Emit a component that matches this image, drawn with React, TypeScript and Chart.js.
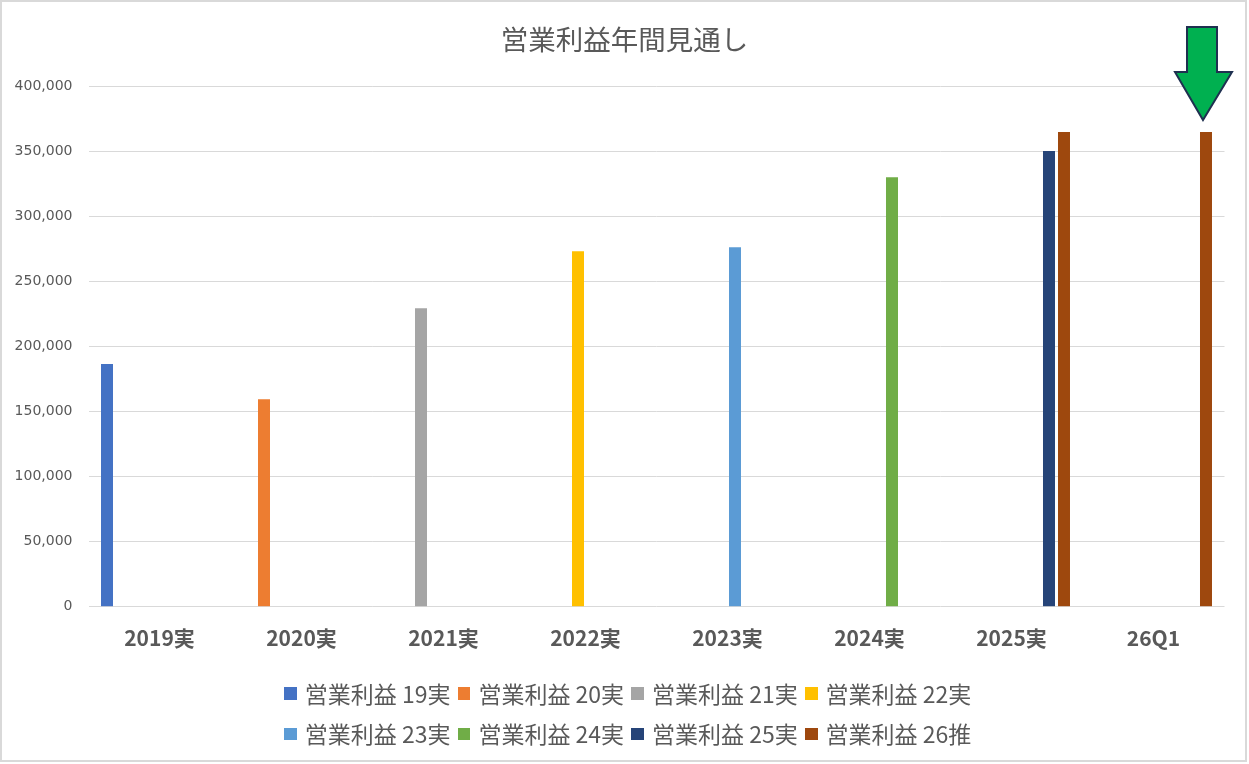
import { useEffect, useRef } from "react"
import { Chart, registerables, ChartConfiguration } from "chart.js"

Chart.register(...registerables)

const categories = ["2019実", "2020実", "2021実", "2022実", "2023実", "2024実", "2025実", "26Q1"]

const seriesNames = [
  "営業利益 19実",
  "営業利益 20実",
  "営業利益 21実",
  "営業利益 22実",
  "営業利益 23実",
  "営業利益 24実",
  "営業利益 25実",
  "営業利益 26推",
]

const op19 = [186500, null, null, null, null, null, null, null]
const op20 = [null, 159500, null, null, null, null, null, null]
const op21 = [null, null, 229500, null, null, null, null, null]
const op22 = [null, null, null, 273300, null, null, null, null]
const op23 = [null, null, null, null, 276400, null, null, null]
const op24 = [null, null, null, null, null, 330200, null, null]
const op25 = [null, null, null, null, null, null, 350200, null]
const op26 = [null, null, null, null, null, null, 364800, 364800]

const seriesValues = [op19, op20, op21, op22, op23, op24, op25, op26]

const seriesColors = ["#4472C4", "#ED7D31", "#A5A5A5", "#FFC000", "#5B9BD5", "#70AD47", "#264478", "#9E480E"]

const yMax = 400000
const yStep = 50000

const JP = "'Noto Sans CJK JP', 'Noto Sans', sans-serif"
const GREY_TEXT = "#595959"

// legend is laid out in html: 4 items per row, like the original
const LEGEND_PER_ROW = 4

function Legend() {
  const rows: number[][] = []
  seriesNames.forEach((_, i) => {
    const r = Math.floor(i / LEGEND_PER_ROW)
    if (!rows[r]) rows[r] = []
    rows[r].push(i)
  })
  return (
    <div style={{ position: "absolute", left: 284.3, top: 673, width: 720 }}>
      {rows.map((row, r) => (
        <div key={r} style={{ display: "flex", height: 40.5, alignItems: "center" }}>
          {row.map((i) => (
            <div key={i} style={{ display: "flex", alignItems: "center", width: 173.6, flex: "none" }}>
              <span style={{ width: 12.5, height: 12.5, background: seriesColors[i], marginRight: 8, flex: "none" }} />
              <span style={{ fontFamily: JP, fontSize: 23, color: GREY_TEXT, whiteSpace: "nowrap", lineHeight: 1 }}>
                {seriesNames[i]}
              </span>
            </div>
          ))}
        </div>
      ))}
    </div>
  )
}

export default function App() {
  const chartRef = useRef<HTMLCanvasElement>(null)
  const chartInstance = useRef<Chart | null>(null)

  useEffect(() => {
    if (!chartRef.current) return
    if (chartInstance.current) chartInstance.current.destroy()

    const ctx = chartRef.current.getContext("2d")
    if (!ctx) return

    const config: ChartConfiguration = {
      type: "bar",
      data: {
        labels: categories,
        datasets: seriesNames.map((name, i) => ({
          label: name,
          data: seriesValues[i],
          backgroundColor: seriesColors[i],
          borderWidth: 0,
          barPercentage: 0.8,
          categoryPercentage: 0.845,
        })),
      },
      options: {
        responsive: false,
        animation: false,
        layout: { padding: { left: 13, right: 13, top: 0, bottom: 94 } },
        plugins: {
          title: {
            display: true,
            text: "営業利益年間見通し",
            color: GREY_TEXT,
            font: { family: JP, size: 27.5, weight: "normal" },
            padding: { top: 23, bottom: 30.3 },
          },
          legend: { display: false },
          tooltip: { enabled: false },
        },
        scales: {
          x: {
            grid: { display: false, drawTicks: false },
            border: { display: false },
            ticks: {
              color: GREY_TEXT,
              font: { family: JP, size: 21, weight: "bold" },
              padding: 19,
            },
          },
          y: {
            min: 0,
            max: yMax,
            afterFit: (scale: any) => {
              scale.width = 75.5
            },
            grid: { color: "#d9d9d9", lineWidth: 1, drawTicks: false },
            border: { display: false },
            ticks: {
              stepSize: yStep,
              color: GREY_TEXT,
              font: { family: "'DejaVu Sans', sans-serif", size: 14 },
              padding: 16,
              callback: (v: any) => Number(v).toLocaleString("en-US"),
            },
          },
          // empty right-hand spacer, keeps the title centred on the page
          ySpace: {
            position: "right",
            afterFit: (scale: any) => {
              scale.width = 11.5
            },
            grid: { display: false, drawTicks: false },
            border: { display: false },
            ticks: { display: false },
          },
        },
      },
    }

    chartInstance.current = new Chart(ctx, config)

    return () => {
      if (chartInstance.current) chartInstance.current.destroy()
    }
  }, [])

  return (
    <div style={{ position: "absolute", left: 0, top: 0, width: 1249, height: 764, background: "#fff", overflow: "hidden" }}>
      <canvas ref={chartRef} width={1249} height={764} style={{ position: "absolute", left: 0, top: 0, width: 1249, height: 764 }} />
      <Legend />
      <div
        style={{
          position: "absolute",
          left: 0,
          top: 0,
          width: 1247,
          height: 762,
          border: "2px solid #d9d9d9",
          boxSizing: "border-box",
          pointerEvents: "none",
        }}
      />
      <svg width={1249} height={764} style={{ position: "absolute", left: 0, top: 0, pointerEvents: "none" }}>
        <polygon
          points="1187,27 1217,27 1217,72 1232,72 1203,120 1175,72 1187,72"
          fill="#00B050"
          stroke="#1F3050"
          strokeWidth={2}
          strokeLinejoin="miter"
        />
      </svg>
    </div>
  )
}
